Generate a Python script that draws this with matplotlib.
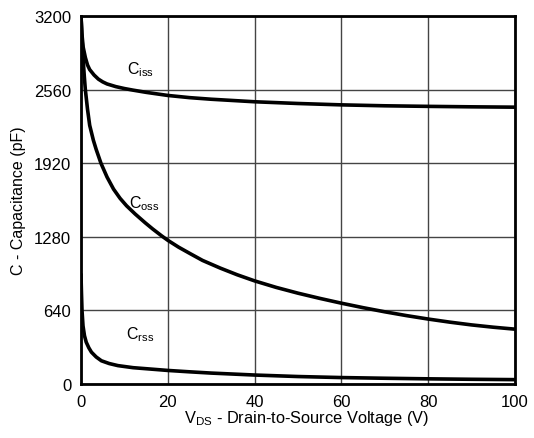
import numpy as np
import matplotlib
matplotlib.use('Agg')
from matplotlib import pyplot as plt

plt.rcParams['font.family'] = ['Liberation Sans', 'DejaVu Sans']
plt.rcParams['mathtext.fontset'] = 'custom'
plt.rcParams['mathtext.rm'] = 'Liberation Sans'
plt.rcParams['mathtext.it'] = 'Liberation Sans'

# values
v_iss = [0, 0.2, 0.5, 1, 1.5, 2, 3, 4, 5, 6, 8, 10, 12, 15, 20, 25, 30, 40, 50, 60, 70, 80, 90, 100]
c_iss = [3200, 3050, 2930, 2840, 2775, 2735, 2688, 2652, 2628, 2610, 2587, 2570, 2556, 2537, 2510, 2491, 2477, 2455, 2440, 2428, 2420, 2415, 2411, 2408]

v_oss = [0, 0.25, 0.5, 0.75, 1, 1.5, 2, 2.85, 3.5, 4.6, 6, 7.5, 9, 10.5, 12.5, 14.8, 16.5, 18.6, 20, 22.5, 25.2,
         28, 32.1, 36, 40, 45, 50, 55, 60, 65, 70, 75, 80, 85, 90, 95, 100]
c_oss = [3200, 2990, 2820, 2680, 2560, 2390, 2250, 2120, 2040, 1920, 1800, 1695, 1615, 1550, 1478, 1402, 1349, 1288, 1250, 1190, 1133,
         1075, 1008, 950, 897, 840, 790, 745, 703, 664, 628, 595, 565, 538, 514, 494, 477]

v_rss = [0, 0.1, 0.23, 0.46, 0.8, 1.2, 1.8, 2.4, 3.5, 4.7, 6.5, 8.5, 12, 17, 20, 25, 30, 40, 50, 60, 70, 80, 90, 100]
c_rss = [946, 800, 640, 506, 420, 364, 315, 277, 235, 202, 178, 160, 142, 127, 118, 106, 95, 78, 65, 56, 50, 45, 41, 38]

xticks = [0, 20, 40, 60, 80, 100]
yticks = [0, 640, 1280, 1920, 2560, 3200]

fig = plt.figure(figsize=(5.34, 4.39), dpi=100)
ax = fig.add_axes([0.1517, 0.123, 0.8127, 0.838])

ax.plot(v_iss, c_iss, color='black', lw=2.6, solid_joinstyle='round')
ax.plot(v_oss, c_oss, color='black', lw=2.6, solid_joinstyle='round')
ax.plot(v_rss, c_rss, color='black', lw=2.6, solid_joinstyle='round')

ax.text(10.5, 2745, r'C$_{\mathrm{iss}}$', fontsize=11.5, va='center')
ax.text(11.0, 1575, r'C$_{\mathrm{oss}}$', fontsize=11.5, va='center')
ax.text(10.4, 440, r'C$_{\mathrm{rss}}$', fontsize=11.5, va='center')

ax.set_xlim(0, 100)
ax.set_ylim(0, 3200)
ax.set_xticks(xticks)
ax.set_yticks(yticks)
ax.tick_params(length=0, labelsize=12, pad=7)
ax.grid(True, color='#444444', lw=1)
for s in ax.spines.values():
    s.set_linewidth(2)
    s.set_color('black')

ax.set_xlabel(r'V$_{\mathrm{DS}}$ - Drain-to-Source Voltage (V)', fontsize=11.8, labelpad=2)
ax.xaxis.set_label_coords(0.52, -0.065)
ax.set_ylabel('C - Capacitance (pF)', fontsize=11.5, labelpad=6)

fig.savefig('out.png', dpi=100)
